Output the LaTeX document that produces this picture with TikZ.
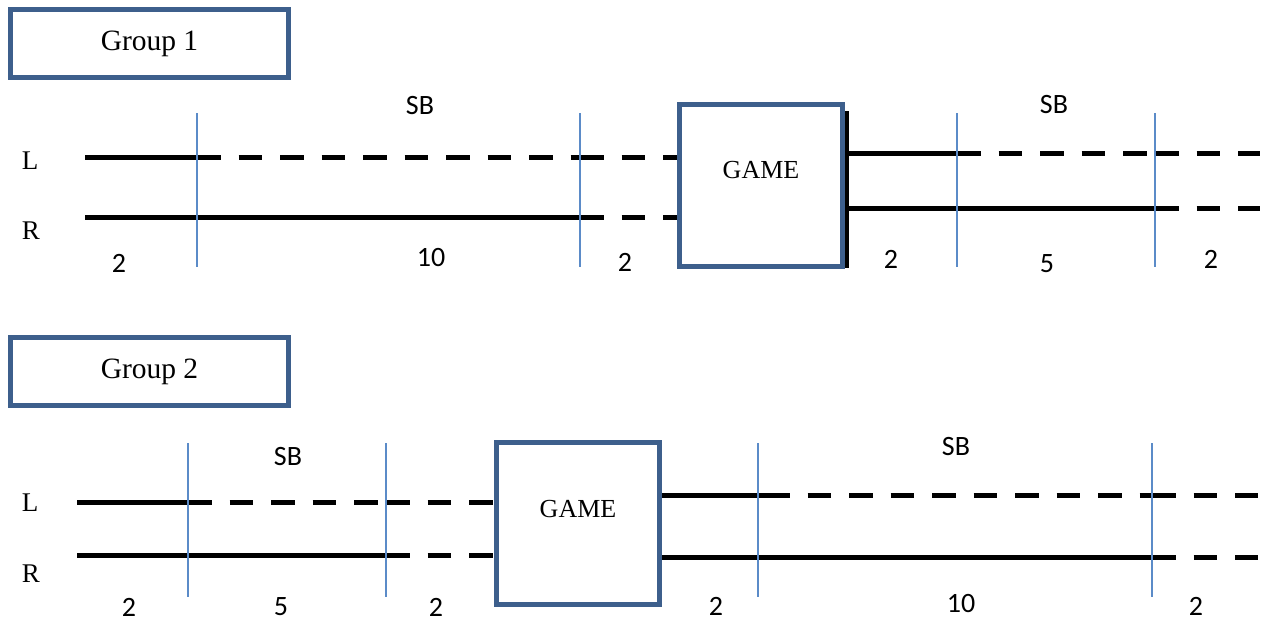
\documentclass[tikz,border=0pt]{standalone}
\usepackage{fontspec}
\setmainfont{Liberation Serif}
\newfontfamily\calib{Carlito}
\definecolor{boxblue}{HTML}{3D5F8C}
\definecolor{tickblue}{HTML}{5B8BC8}
\tikzset{
  groupbox/.style={draw=boxblue, line width=5pt, fill=white, minimum width=278pt, minimum height=68pt, inner sep=0pt, font=\fontsize{29.5}{33}\selectfont},
  gamebox/.style={draw=boxblue, line width=5pt, fill=white, minimum width=163pt, minimum height=162pt, inner sep=0pt},
  gamelabel/.style={font=\fontsize{26}{30}\selectfont, inner sep=0pt},
  track/.style={line width=5pt},
  dtrack/.style={line width=5pt, dash pattern=on 23.5pt off 18pt},
  tick/.style={draw=tickblue, line width=1.5pt},
  num/.style={font=\calib\fontsize{28}{32}\selectfont, inner sep=0pt},
  side/.style={font=\fontsize{27}{30}\selectfont, inner sep=0pt}
}
\begin{document}
\begin{tikzpicture}[x=1pt,y=-1pt]
\useasboundingbox (0,0) rectangle (1270,621);

% ---------------- Group 1 ----------------
\node[groupbox] (grp1) at (149.5,43.5) {Group 1};
\node[gamebox] (game1) at (761,185) {};
\node[gamelabel] (game1t) at (761,170) {GAME};

\node[side] (L1) at (30,161) {L};
\node[side] (R1) at (31,231) {R};

% left L line
\coordinate (L1s) at (85,157);
\coordinate (L1a) at (197,157);
\coordinate (L1b) at (580,157);
\draw[track] (L1s) -- (L1a);
\draw[dtrack] (L1a) -- (L1b);
\draw[dtrack] (L1b) -- (game1.west |- L1b);
% left R line
\coordinate (R1s) at (85,217);
\coordinate (R1b) at (580,217);
\draw[track] (R1s) -- (R1b);
\draw[dtrack] (R1b) -- (game1.west |- R1b);
% right L line
\coordinate (L1c) at (957,153);
\coordinate (L1d) at (1155,153);
\coordinate (L1e) at (1260,153);
\draw[track] (game1.east |- L1c) -- (L1c);
\draw[dtrack] (L1c) -- (L1d);
\draw[dtrack] (L1d) -- (L1e);
% right R line
\coordinate (R1d) at (1155,208);
\coordinate (R1e) at (1260,208);
\draw[track] (game1.east |- R1d) -- (R1d);
\draw[dtrack] (R1d) -- (R1e);
% black edge of game box
\coordinate (e1a) at (847,111);
\coordinate (e1b) at (847,268);
\draw[line width=4pt] (e1a) -- (e1b);

% ticks
\coordinate (t1a) at (197,113); \coordinate (t1b) at (197,267);
\coordinate (t2a) at (580,113); \coordinate (t2b) at (580,267);
\coordinate (t3a) at (957,113); \coordinate (t3b) at (957,267);
\coordinate (t4a) at (1155,113); \coordinate (t4b) at (1155,267);
\draw[tick] (t1a) -- (t1b);
\draw[tick] (t2a) -- (t2b);
\draw[tick] (t3a) -- (t3b);
\draw[tick] (t4a) -- (t4b);

\node[num] (sb1) at (420,106) {SB};
\node[num] (sb2) at (1054,105) {SB};
\node[num] (n11) at (119,263) {2};
\node[num] (n12) at (431,258) {10};
\node[num] (n13) at (625,262) {2};
\node[num] (n14) at (891,259) {2};
\node[num] (n15) at (1047,264) {5};
\node[num] (n16) at (1211,259) {2};

% ---------------- Group 2 ----------------
\node[groupbox] (grp2) at (149.5,371.5) {Group 2};
\node[gamebox] (game2) at (578,523.5) {};
\node[gamelabel] (game2t) at (578,509) {GAME};

\node[side] (L2) at (30,503) {L};
\node[side] (R2) at (31,574) {R};

% left L line
\coordinate (L2s) at (77,502);
\coordinate (L2a) at (188,502);
\coordinate (L2b) at (386,502);
\draw[track] (L2s) -- (L2a);
\draw[dtrack] (L2a) -- (L2b);
\draw[dtrack] (L2b) -- (game2.west |- L2b);
% left R line
\coordinate (R2s) at (77,555);
\coordinate (R2b) at (386,555);
\draw[track] (R2s) -- (R2b);
\draw[dtrack] (R2b) -- (game2.west |- R2b);
% right L line
\coordinate (L2c) at (766,495);
\coordinate (L2d) at (1152,495);
\coordinate (L2e) at (1258,495);
\draw[track] (game2.east |- L2c) -- (L2c);
\draw[dtrack] (L2c) -- (L2d);
\draw[dtrack] (L2d) -- (L2e);
% right R line
\coordinate (R2d) at (1152,557);
\coordinate (R2e) at (1258,557);
\draw[track] (game2.east |- R2d) -- (R2d);
\draw[dtrack] (R2d) -- (R2e);

% ticks
\coordinate (t5a) at (188,443); \coordinate (t5b) at (188,597);
\coordinate (t6a) at (386,443); \coordinate (t6b) at (386,597);
\coordinate (t7a) at (758,443); \coordinate (t7b) at (758,597);
\coordinate (t8a) at (1152,443); \coordinate (t8b) at (1152,597);
\draw[tick] (t5a) -- (t5b);
\draw[tick] (t6a) -- (t6b);
\draw[tick] (t7a) -- (t7b);
\draw[tick] (t8a) -- (t8b);

\node[num] (sb3) at (288,457) {SB};
\node[num] (sb4) at (956,447) {SB};
\node[num] (n21) at (129,607) {2};
\node[num] (n22) at (281,607) {5};
\node[num] (n23) at (436,607) {2};
\node[num] (n24) at (716,606) {2};
\node[num] (n25) at (961,604) {10};
\node[num] (n26) at (1196,606) {2};
\end{tikzpicture}
\end{document}
